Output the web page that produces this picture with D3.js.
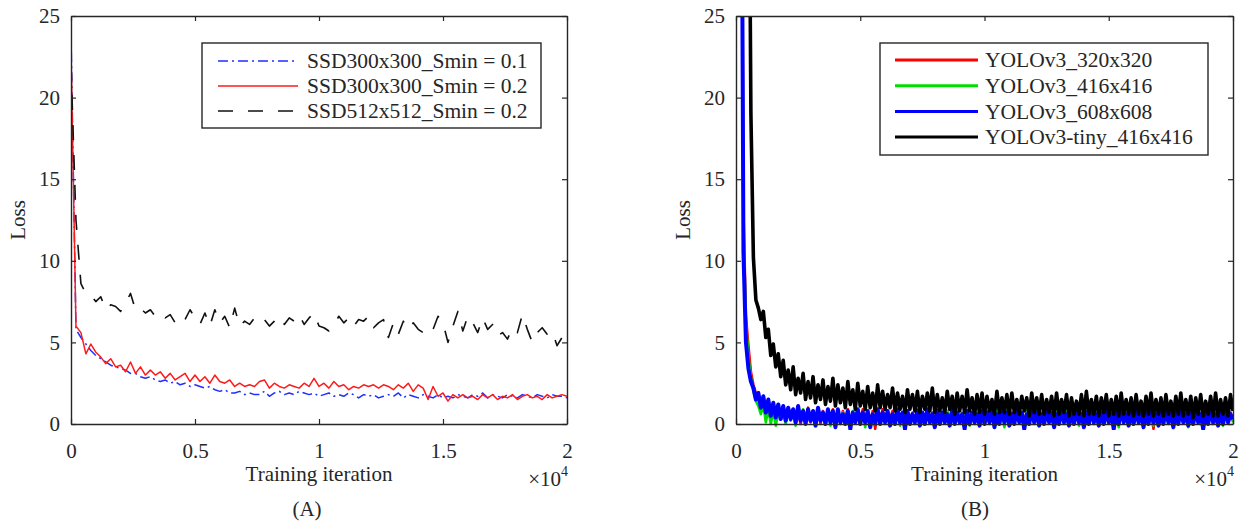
<!DOCTYPE html>
<html>
<head>
<meta charset="utf-8">
<script src="https://cdn.jsdelivr.net/npm/d3@7"></script>
<style>
  body { margin: 0; background: #fff; }
  svg text { font-family: "Liberation Serif", "Times New Roman", serif; fill: #262626; }
</style>
</head>
<body>
<svg id="chart" width="1246" height="523" font-family="Liberation Serif, Times New Roman, serif"></svg>
<script>
(function () {
  "use strict";

  // iterations between two logged samples
  const STEP_A = 200;
  const STEP_B = 100;

  const X_TICKS = [0, 5000, 10000, 15000, 20000];
  const X_TICK_LABELS = ["0", "0.5", "1", "1.5", "2"];
  const Y_TICKS = [0, 5, 10, 15, 20, 25];

  const NAMES_A = ["SSD300x300_Smin = 0.1", "SSD300x300_Smin = 0.2", "SSD512x512_Smin = 0.2"];
  const NAMES_B = ["YOLOv3_320x320", "YOLOv3_416x416", "YOLOv3_608x608", "YOLOv3-tiny_416x416"];

  // (A) SSD losses, one value every 200 iterations
  const SSD300_S01 = [
    24, 5.8, 5.3, 4.9, 4.5, 4.2, 4.0, 3.8, 3.6, 3.5,
    3.4, 3.3, 3.1, 3.1, 2.9, 2.8, 2.9, 2.7, 2.6, 2.7,
    2.5, 2.6, 2.4, 2.5, 2.3, 2.4, 2.3, 2.2, 2.3, 2.1,
    2.0, 2.1, 1.9, 1.9, 2.0, 1.8, 1.9, 1.8, 1.8, 2.0,
    1.7, 1.9, 2.0, 1.8, 1.9, 1.8, 2.0, 1.9, 1.8, 1.9,
    1.7, 1.8, 1.9, 1.7, 1.8, 1.7, 1.9, 1.8, 1.6, 1.8,
    1.7, 1.8, 1.6, 1.7, 1.8, 1.7, 1.9, 1.6, 1.8, 1.7,
    1.6, 1.8, 1.7, 1.6, 1.8, 1.6, 1.7, 1.6, 1.8, 1.7,
    1.6, 1.8, 1.7, 1.9, 1.6, 1.8, 1.7, 1.6, 1.8, 1.7,
    1.6, 1.8, 1.7, 1.6, 1.8, 1.7, 1.6, 1.8, 1.7, 1.7,
    1.6
  ];
  const SSD300_S02 = [
    23, 6.0, 5.6, 4.3, 4.9, 4.4, 4.1, 3.7, 4.0, 3.5,
    3.6, 3.2, 3.8, 3.1, 3.5, 3.0, 3.3, 3.0, 3.2, 2.8,
    3.1, 2.7, 2.9, 3.1, 2.6, 3.0, 2.6, 2.9, 2.5, 3.0,
    2.6, 2.5, 2.7, 2.3, 2.5, 2.3, 2.4, 2.3, 2.6, 2.7,
    2.2, 2.5, 2.3, 2.2, 2.4, 2.3, 2.2, 2.5, 2.3, 2.8,
    2.3, 2.5, 2.2, 2.6, 2.3, 2.4, 2.1, 2.3, 2.2, 2.4,
    2.3, 2.4, 2.2, 2.4, 2.3, 2.1, 2.4, 2.2, 2.5, 2.0,
    2.4, 2.2, 1.5, 2.3, 1.7, 1.9, 1.4, 1.8, 1.6, 1.8,
    1.6, 1.7, 1.5, 1.8, 1.6, 1.8, 1.5, 1.7, 1.6, 1.8,
    1.5, 1.7, 1.8, 1.6, 1.7, 1.5, 1.8, 1.6, 1.7, 1.8,
    1.7
  ];
  const SSD512_S02 = [
    22, 12.5, 8.6, 8.0, 7.9, 7.5, 7.8, 7.0, 7.3, 7.2,
    6.9, 7.4, 8.0, 7.0, 7.1, 6.8, 7.0, 6.6, 6.8, 6.5,
    6.7, 6.2, 6.6, 6.4, 7.0, 6.5, 6.1, 6.8, 6.0, 7.0,
    6.2, 6.6, 5.9, 7.1, 6.0, 6.3, 6.1, 6.5, 6.2, 6.4,
    6.0, 6.3, 6.6, 6.1, 6.5, 6.3, 6.7, 6.1, 6.5, 6.8,
    6.0, 5.9, 5.7, 6.1, 6.6, 6.2, 6.5, 6.0, 6.4, 6.3,
    6.6, 5.9, 6.2, 6.4, 5.3, 6.2, 5.5, 6.3, 5.8, 6.2,
    5.8, 5.6, 6.0, 5.8, 6.6, 6.2, 5.0, 6.0, 6.9, 5.7,
    6.6, 6.2, 5.6, 6.5, 5.8, 6.1, 5.4, 5.6, 5.2, 5.9,
    5.6, 6.7, 5.8, 5.0, 5.6, 5.9, 5.5, 5.7, 4.8, 5.3,
    5.0
  ];

  // (B) YOLOv3 losses, one value every 100 iterations (null = not logged yet)
  const YOLO_320 = [
    null, null, 48, 13, 6.6, 4.8, 3.2, 2.4, 1.9, 1.5,
    1.1, 1.5, 0.6, 1.2, 0.4, 1.0, 0.2, 0.9, 0.3, 1.0,
    0.1, 0.8, 0.3, 0.9, 0.2, 0.7, 0.0, 0.8, 0.3, 1.0,
    0.1, 0.7, 0.2, 0.9, 0.0, 0.8, 0.3, 0.6, 0.1, 0.9,
    0.2, 0.7, 0.0, 0.8, 0.3, 0.9, 0.1, 0.6, 0.2, 0.8,
    0.1, 0.9, 0.3, 0.7, 0.0, 0.8, -0.3, 0.6, 0.2, 0.9,
    0.1, 0.7, 0.3, 0.8, 0.0, 0.9, 0.2, 0.6, 0.1, 0.8,
    0.3, 0.7, 0.0, 0.9, 0.2, 0.6, 0.1, 0.8, 0.3, 0.7,
    0.0, 0.9, 0.2, 0.6, 0.1, 0.8, 0.3, 0.7, 0.0, 0.9,
    0.2, 0.6, 0.1, 0.8, 0.3, 0.7, 0.0, 0.9, 0.2, 0.6,
    0.1, 0.8, 0.3, 0.7, 0.0, 0.9, 0.2, 0.6, 0.1, 0.8,
    0.3, 0.7, 0.0, 0.9, 0.2, 0.6, 0.1, 0.8, 0.3, 0.7,
    0.0, 0.9, 0.2, 0.6, 0.1, 0.8, 0.3, 0.7, 0.0, 0.9,
    0.2, 0.6, 0.1, 0.8, 0.3, 0.7, 0.0, 0.9, 0.2, 0.6,
    0.1, 0.8, 0.3, 0.7, 0.0, 0.9, 0.2, 0.6, 0.1, 0.8,
    0.3, 0.7, 0.0, 0.9, 0.2, 0.6, 0.1, 0.8, 0.3, 0.7,
    0.0, 0.9, 0.2, 0.6, 0.1, 0.8, 0.3, 0.7, -0.3, 0.9,
    0.2, 0.6, 0.1, 0.8, 0.3, 0.7, 0.0, 0.9, 0.2, 0.6,
    0.1, 0.8, 0.3, 0.7, 0.0, 0.9, 0.2, 0.6, 0.1, 0.8,
    0.3, 0.7, 0.0, 0.9, 0.2, 0.6, 0.1, 0.8, 0.3, 0.7,
    0.2
  ];
  const YOLO_416 = [
    null, null, 45, 12, 6.2, 4.1, 2.9, 2.0, 1.4, 1.1,
    0.6, 1.2, 0.1, 0.9, 0.0, 0.8, -0.1, 0.7, 0.3, 0.8,
    0.0, 0.9, 0.2, 0.7, -0.1, 0.8, 0.3, 0.9, 0.1, 0.6,
    0.2, 0.8, 0.0, 0.9, 0.3, 0.7, 0.1, 0.8, -0.1, 0.6,
    0.2, 0.9, 0.1, 0.7, 0.3, 0.6, 0.0, 0.8, 0.2, 0.9,
    0.1, 0.7, -0.2, 0.8, 0.2, 0.6, 0.1, 0.9, 0.3, 0.7,
    0.0, 0.8, 0.2, 0.6, 0.1, 0.9, -0.1, 0.7, 0.2, 0.8,
    0.1, 0.6, 0.3, 0.9, 0.0, 0.7, 0.2, 0.8, 0.1, 0.6,
    -0.2, 0.9, 0.2, 0.7, 0.1, 0.8, 0.3, 0.6, 0.0, 0.9,
    0.2, 0.7, 0.1, 0.8, -0.1, 0.6, 0.2, 0.9, 0.1, 0.7,
    0.3, 0.8, 0.0, 0.6, 0.2, 0.9, 0.1, 0.7, -0.2, 0.8,
    0.2, 0.6, 0.1, 0.9, 0.3, 0.7, 0.0, 0.8, 0.2, 0.6,
    0.1, 0.9, -0.1, 0.7, 0.2, 0.8, 0.1, 0.6, 0.3, 0.9,
    0.2, 0.7, 0.0, 0.8, 0.1, 0.6, 0.2, 0.9, -0.1, 0.7,
    0.3, 0.8, 0.1, 0.6, 0.2, 0.9, 0.0, 0.7, 0.2, 0.8,
    0.1, 0.6, 0.3, 0.9, -0.2, 0.7, 0.2, 0.8, 0.1, 0.6,
    0.0, 0.9, 0.2, 0.7, 0.1, 0.8, 0.3, 0.6, -0.1, 0.9,
    0.2, 0.7, 0.1, 0.8, 0.0, 0.6, 0.2, 0.9, 0.3, 0.7,
    0.1, 0.8, -0.2, 0.6, 0.2, 0.9, 0.1, 0.7, 0.0, 0.8,
    0.3, 0.6, 0.1, 0.9, 0.2, 0.7, -0.1, 0.8, 0.2, 0.6,
    0.1
  ];
  const YOLO_608 = [
    null, null, 45, 10.5, 5.0, 3.4, 2.6, 2.2, 1.5, 1.9,
    1.0, 1.7, 0.7, 1.5, 0.5, 1.3, 0.4, 1.2, 0.3, 1.1,
    0.2, 1.0, 0.3, 0.9, 0.1, 1.1, 0.2, 0.8, 0.0, 0.9,
    0.2, 0.8, -0.1, 1.0, 0.2, 0.7, 0.0, 0.9, 0.1, 0.8,
    -0.2, 0.9, 0.1, 0.6, 0.0, 0.8, -0.3, 0.7, 0.1, 0.9,
    0.0, 0.7, 0.1, 0.8, -0.2, 0.6, 0.1, 0.9, 0.0, 0.7,
    0.1, 0.8, -0.1, 0.6, 0.0, 0.9, 0.1, 0.7, -0.3, 0.8,
    0.0, 0.6, 0.1, 0.8, -0.1, 0.7, 0.0, 0.9, 0.1, 0.6,
    -0.2, 0.8, 0.0, 0.7, 0.1, 0.6, -0.1, 0.9, 0.0, 0.7,
    0.1, 0.6, -0.3, 0.8, 0.0, 0.7, 0.1, 0.6, -0.1, 0.8,
    0.0, 0.7, 0.1, 0.9, -0.2, 0.6, 0.0, 0.8, 0.1, 0.7,
    -0.1, 0.6, 0.0, 0.8, 0.1, 0.7, -0.3, 0.6, 0.0, 0.9,
    0.1, 0.7, -0.1, 0.6, 0.0, 0.8, 0.1, 0.7, -0.2, 0.6,
    0.0, 0.8, 0.1, 0.6, -0.1, 0.7, 0.0, 0.9, 0.1, 0.6,
    -0.2, 0.7, 0.0, 0.8, 0.1, 0.6, -0.1, 0.7, 0.0, 0.8,
    0.1, 0.6, -0.3, 0.7, 0.0, 0.9, 0.1, 0.6, -0.1, 0.7,
    0.0, 0.8, 0.1, 0.6, -0.2, 0.7, 0.0, 0.8, 0.1, 0.6,
    -0.1, 0.7, 0.0, 0.9, 0.1, 0.6, -0.2, 0.7, 0.0, 0.8,
    0.1, 0.6, -0.1, 0.7, 0.0, 0.8, 0.1, 0.6, -0.3, 0.7,
    0.0, 0.8, 0.1, 0.6, -0.1, 0.7, 0.0, 0.9, 0.1, 0.6,
    0.3
  ];
  const YOLO_TINY = [
    null, null, null, null, null, 42, 19, 10.2, 7.6, 7.1,
    6.4, 6.9, 5.3, 5.8, 4.2, 4.9, 3.5, 4.3, 2.9, 3.9,
    2.4, 3.3, 2.1, 3.5, 1.8, 2.8, 1.9, 3.1, 1.5, 2.6,
    1.6, 2.9, 1.3, 2.4, 1.5, 2.7, 1.2, 2.3, 1.4, 2.8,
    1.1, 2.4, 1.3, 2.2, 1.0, 2.6, 1.2, 2.1, 0.9, 2.5,
    1.1, 2.0, 0.9, 2.3, 1.0, 1.9, 0.8, 2.4, 1.0, 2.0,
    0.9, 1.8, 1.0, 2.2, 0.8, 1.9, 0.9, 1.7, 0.7, 2.1,
    0.9, 1.8, 0.8, 2.0, 0.7, 1.7, 0.9, 1.9, 0.8, 2.2,
    0.7, 1.8, 0.8, 1.6, 0.7, 2.0, 0.9, 1.7, 0.6, 1.9,
    0.8, 1.7, 0.7, 2.1, 0.8, 1.6, 0.6, 1.8, 0.7, 1.9,
    0.6, 1.7, 0.8, 1.5, 0.6, 2.0, 0.7, 1.6, 0.7, 1.8,
    0.6, 1.9, 0.7, 1.5, 0.6, 1.7, 0.8, 1.6, 0.5, 1.9,
    0.7, 1.6, 0.6, 1.8, 0.6, 1.5, 0.7, 1.7, 0.5, 1.9,
    0.6, 1.5, 0.7, 1.8, 0.5, 1.6, 0.6, 1.4, 0.6, 1.8,
    0.5, 2.0, 0.6, 1.5, 0.6, 1.7, 0.5, 1.6, 0.7, 1.8,
    0.5, 1.5, 0.6, 1.7, 0.5, 1.9, 0.6, 1.5, 0.6, 1.6,
    0.5, 1.8, 0.6, 1.4, 0.5, 1.7, 0.6, 1.9, 0.5, 1.5,
    0.6, 1.6, 0.5, 1.8, 0.6, 1.4, 0.5, 1.7, 0.6, 1.9,
    0.5, 1.5, 0.6, 1.7, 0.4, 1.6, 0.6, 1.8, 0.5, 1.4,
    0.6, 1.7, 0.5, 1.9, 0.5, 1.5, 0.6, 1.6, 0.5, 1.8,
    0.8
  ];

  const svg = d3.select('#chart');
  const TOP = 16, BOTTOM = 424;
  const AXIS_COLOR = '#262626';
  const FONT = 21;

  drawPanel({
    id: 'a', left: 71, right: 567, step: STEP_A, tag: '(A)', tagX: 307, clipBelow: 0,
    series: [
      { values: SSD300_S01, color: '#1f2fff', width: 1.5, dash: '10,4,2,4' },
      { values: SSD300_S02, color: '#ff1a1a', width: 1.5, dash: null },
      { values: SSD512_S02, color: '#111111', width: 1.6, dash: '15,15' }
    ],
    names: NAMES_A,
    legend: { x: 202, y: 43, w: 339, h: 85, rowY: 61, rowGap: 25, x1: 218, x2: 298, tx: 307, width: null }
  });

  drawPanel({
    id: 'b', left: 736, right: 1233, step: STEP_B, tag: '(B)', tagX: 975, clipBelow: 6,
    series: [
      { values: YOLO_320, color: '#ff0000', width: 2.6, dash: null },
      { values: YOLO_416, color: '#00e000', width: 2.6, dash: null },
      { values: YOLO_608, color: '#0000ff', width: 4, dash: null },
      { values: YOLO_TINY, color: '#000000', width: 3.6, dash: null }
    ],
    names: NAMES_B,
    legend: { x: 880, y: 43, w: 328, h: 112, rowY: 60, rowGap: 25.7, x1: 895, x2: 978, tx: 985, width: 3 }
  });

  function drawPanel(cfg) {
    let x = d3.scaleLinear().domain([0, 20000]).range([cfg.left, cfg.right]),
      y = d3.scaleLinear().domain([0, 25]).range([BOTTOM, TOP]);

    let g = svg.append('g');

    g.append('clipPath')
      .attr('id', 'clip-' + cfg.id)
      .append('rect')
      .attr('x', cfg.left)
      .attr('y', TOP)
      .attr('width', cfg.right - cfg.left)
      .attr('height', BOTTOM - TOP + cfg.clipBelow);

    /*
     * loss curves
     */
    let line = d3.line()
      .defined(function (d) { return d !== null; })
      .x(function (d, i) { return x(i * cfg.step); })
      .y(function (d) { return y(d); });

    g.append('g')
      .attr('clip-path', 'url(#clip-' + cfg.id + ')')
      .selectAll('path')
      .data(cfg.series)
      .enter()
      .append('path')
      .attr('fill', 'none')
      .attr('stroke', function (d) { return d.color; })
      .attr('stroke-width', function (d) { return d.width; })
      .attr('stroke-dasharray', function (d) { return d.dash; })
      .attr('stroke-linejoin', 'round')
      .attr('d', function (d) { return line(d.values); });

    /*
     * axes, ticks pointing inward on all four sides
     */
    let axes = [
      d3.axisBottom(x).tickValues(X_TICKS).tickFormat(function (d, i) { return X_TICK_LABELS[i]; }).tickPadding(19),
      d3.axisTop(x).tickValues(X_TICKS).tickFormat(''),
      d3.axisLeft(y).tickValues(Y_TICKS).tickPadding(11),
      d3.axisRight(y).tickValues(Y_TICKS).tickFormat('')
    ];
    let shifts = [
      'translate(0,' + BOTTOM + ')',
      'translate(0,' + TOP + ')',
      'translate(' + cfg.left + ',0)',
      'translate(' + cfg.right + ',0)'
    ];
    axes.forEach(function (ax, k) {
      let ag = g.append('g')
        .attr('transform', shifts[k])
        .call(ax.tickSizeInner(-5).tickSizeOuter(0));
      ag.attr('font-family', null).attr('font-size', null);
      ag.select('.domain').attr('stroke', AXIS_COLOR).attr('stroke-width', 1.4);
      ag.selectAll('.tick line').attr('stroke', AXIS_COLOR).attr('stroke-width', 1.2);
      ag.selectAll('.tick text').style('font-size', FONT + 'px');
    });

    /*
     * labels
     */
    let cx = (cfg.left + cfg.right) / 2;
    g.append('text')
      .attr('x', cx)
      .attr('y', 481)
      .attr('text-anchor', 'middle')
      .style('font-size', FONT + 'px')
      .text('Training iteration');

    let exp = g.append('text')
      .attr('x', cfg.right + 1)
      .attr('y', 486)
      .attr('text-anchor', 'end')
      .style('font-size', FONT + 'px');
    exp.append('tspan').text('\u00d710');
    exp.append('tspan').attr('dy', -10).style('font-size', '14px').text('4');

    g.append('text')
      .attr('transform', 'translate(' + (cfg.left - 46) + ',' + ((TOP + BOTTOM) / 2) + ') rotate(-90)')
      .attr('text-anchor', 'middle')
      .style('font-size', FONT + 'px')
      .text('Loss');

    g.append('text')
      .attr('x', cfg.tagX)
      .attr('y', 516)
      .attr('text-anchor', 'middle')
      .style('font-size', FONT + 'px')
      .text(cfg.tag);

    /*
     * legend
     */
    let lg = cfg.legend;
    g.append('rect')
      .attr('x', lg.x)
      .attr('y', lg.y)
      .attr('width', lg.w)
      .attr('height', lg.h)
      .attr('fill', '#fff')
      .attr('stroke', AXIS_COLOR)
      .attr('stroke-width', 1.4);

    let rows = g.selectAll('.legend-row')
      .data(cfg.series)
      .enter()
      .append('g')
      .attr('class', 'legend-row')
      .attr('transform', function (d, i) { return 'translate(0,' + (lg.rowY + i * lg.rowGap) + ')'; });

    rows.append('line')
      .attr('x1', lg.x1)
      .attr('x2', lg.x2)
      .attr('stroke', function (d) { return d.color; })
      .attr('stroke-width', function (d) { return lg.width || d.width; })
      .attr('stroke-dasharray', function (d) { return d.dash; });

    rows.append('text')
      .attr('x', lg.tx)
      .attr('dy', '0.33em')
      .style('font-size', '21.5px')
      .text(function (d, i) { return cfg.names[i]; });
  }
}());
</script>
</body>
</html>
